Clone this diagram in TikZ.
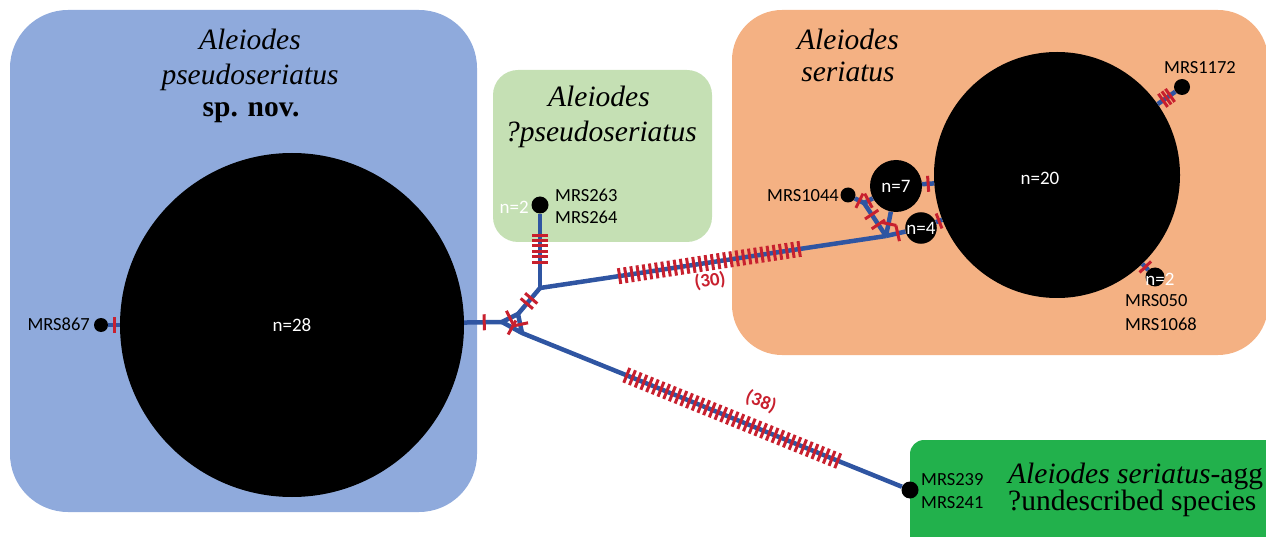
\documentclass[tikz,border=0pt]{standalone}
\usepackage{fontspec}
\setmainfont{Liberation Serif}
\newfontfamily\lab{Carlito}

\definecolor{boxblue}{HTML}{8FAADC}
\definecolor{boxpale}{HTML}{C5E0B4}
\definecolor{boxorange}{HTML}{F4B183}
\definecolor{boxgreen}{HTML}{22B14C}
\definecolor{netblue}{HTML}{2F55A2}
\definecolor{tickred}{HTML}{C8202E}

\begin{document}
\begin{tikzpicture}[x=1pt,y=-1pt,
  edge/.style={draw=netblue, line width=4.5pt, line join=round},
  hap/.style={circle, fill=black, inner sep=0pt, text=white,
    font=\lab\fontsize{19}{19}\selectfont},
  dotnode/.style={circle, fill=black, inner sep=0pt, minimum size=#1},
  dotnode/.default=15pt,
  tk/.style={sloped, fill=tickred, inner sep=0pt, minimum width=3pt,
    minimum height=16pt},
  lbl/.style={font=\lab\fontsize{18.5}{22}\selectfont, inner sep=0pt},
  wlbl/.style={lbl, text=white, font=\lab\fontsize{19}{22}\selectfont},
  count/.style={font=\lab\bfseries\fontsize{19}{22}\selectfont, text=tickred, inner sep=0pt},
  title/.style={font=\fontsize{29.5}{34}\selectfont, inner sep=0pt, anchor=base},
]
\useasboundingbox (0,0) rectangle (1266,537);
\clip (0,0) rectangle (1266,537);

% species groups
\fill[boxblue, rounded corners=58pt] (10,10) rectangle (477,512);
\fill[boxpale, rounded corners=25pt] (493,70) rectangle (712,242);
\fill[boxorange, rounded corners=50pt] (732,10) rectangle (1268,355);
\fill[boxgreen, rounded corners=14pt] (910,440) rectangle (1300,570);

% group names
\node[title] (tA1) at (250,50) {\itshape Aleiodes};
\node[title] (tA2) at (250,85) {\itshape pseudoseriatus};
\node[title] (tA3) at (251,117) {\bfseries sp. nov.};
\node[title] (tB1) at (599,107) {\itshape Aleiodes};
\node[title] (tB2) at (601,142) {\itshape ?pseudoseriatus};
\node[title] (tC1) at (848,50) {\itshape Aleiodes};
\node[title] (tC2) at (848,82) {\itshape seriatus};
\node[title, anchor=base west] (tD1) at (1008,483) {\itshape Aleiodes seriatus\upshape-agg};
\node[title, anchor=base west] (tD2) at (1008,510) {?undescribed species};

% haplotypes
\node[hap, minimum size=344pt] (c28) at (292,325) {n=28};
\node[hap, minimum size=246pt] (c20) at (1057,175) {};
\node[hap, minimum size=52pt] (n7) at (896,186) {n=7};
\node[hap, minimum size=31pt] (n4) at (921,228) {n=4};
\node[hap, minimum size=19pt] (n2b) at (1155,277) {};
\node[dotnode=14pt] (d867) at (101,325) {};
\node[dotnode=17pt] (d263) at (540,205) {};
\node[dotnode=15pt] (d1044) at (848,195) {};
\node[dotnode=16pt] (d1172) at (1182,87) {};
\node[dotnode=17pt] (d239) at (910,490) {};

% median vectors
\coordinate (J1) at (502,322);
\coordinate (J2) at (518,314);
\coordinate (J3) at (522,333);
\coordinate (K) at (540,288);
\coordinate (L) at (886,236);
\coordinate (M) at (864,203);

% network edges
\draw[edge] (d867) -- (c28);
\draw[edge] (c28) -- (J1);
\draw[edge] (J1) -- (J2) -- (J3) -- cycle;
\draw[edge] (J2) -- (K);
\draw[edge] (K) -- (d263);
\draw[edge] (K) -- (L);
\draw[edge] (J3) -- (d239);
\draw[edge] (L) -- (M);
\draw[edge] (M) -- (d1044);
\draw[edge] (M) -- (n7);
\draw[edge] (L) -- (n7);
\draw[edge] (L) -- (n4);
\draw[edge] (n7) -- (c20);
\draw[edge] (n4) -- (c20);
\draw[edge] (c20) -- (d1172);
\draw[edge] (c20) -- (n2b);

% mutation marks
\path (d867) -- (c28) node[tk, pos=.5] {};
\path (c28) -- (J1) node[tk, pos=.53] {};
\path (J1) -- (J2) node[tk, pos=.5] {};
\path (J1) -- (J3) node[tk, pos=.5] {};
\path (J2) -- (J3) node[tk, pos=.55] {};
\path (J2) -- (K) node[tk, pos=.4] {} node[tk, pos=.6] {};
\foreach \i [evaluate=\i as \p using 0.313+\i*0.065] in {0,...,5}
  \path (K) -- (d263.center) node[tk, pos=\p] {};
\foreach \i [evaluate=\i as \p using 0.23+\i*0.0179] in {0,...,29}
  \path (K) -- (L) node[tk, pos=\p] {};
\foreach \i [evaluate=\i as \p using 0.27+\i*0.0147] in {0,...,37}
  \path (J3) -- (d239.center) node[tk, pos=\p] {};
\path (L) -- (M) node[tk, pos=.35] {} node[tk, pos=.65] {};
\path (M) -- (d1044) node[tk, pos=.5] {};
\path (M) -- (n7) node[tk, pos=.5] {};
\path (L) -- (n7) node[tk, pos=.5] {};
\path (L) -- (n4) node[tk, pos=.6] {};
\path (n7) -- (c20) node[tk, pos=.5] {};
\path (n4) -- (c20) node[tk, pos=.5] {};
\path (c20) -- (d1172) node[tk, pos=.3] {} node[tk, pos=.5] {} node[tk, pos=.7] {};
\path (c20) -- (n2b) node[tk, pos=.5] {};

% mutation counts
\node[count, rotate=8] (m30) at (710,281) {(30)};
\node[count, rotate=-20] (m38) at (761,402) {(38)};

% sample labels
\node[wlbl] (t20) at (1040,178) {n=20};
\node[wlbl] (t2b) at (1160,279) {n=2};
\node[wlbl, anchor=east] (t263n) at (529,207) {n=2};
\node[lbl, anchor=east] (l867) at (90,324) {MRS867};
\node[lbl, anchor=west] (l263) at (555,195) {MRS263};
\node[lbl, anchor=west] (l264) at (555,217) {MRS264};
\node[lbl, anchor=east] (l1044) at (839,196) {MRS1044};
\node[lbl] (l1172) at (1200,68) {MRS1172};
\node[lbl, anchor=west] (l050) at (1125,301) {MRS050};
\node[lbl, anchor=west] (l1068) at (1125,324) {MRS1068};
\node[lbl, anchor=west] (l239) at (921,480) {MRS239};
\node[lbl, anchor=west] (l241) at (921,503) {MRS241};
\end{tikzpicture}
\end{document}
